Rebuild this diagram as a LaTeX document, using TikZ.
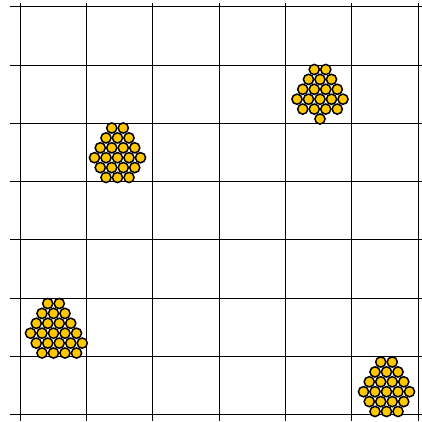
\documentclass[tikz,border=0pt]{standalone}
\definecolor{gold}{HTML}{FFC800}
\tikzset{
  gridline/.style={black, line width=1pt},
  ball/.style={draw=black, fill=gold, line width=1.5pt}
}
\newcommand\ballcluster[3]{%
  \foreach \r/\offs in {#3} {
    \foreach \o in \offs {
      \draw[ball] ({#1+\o*11.5},{#2+\r*9.9}) circle (5.1);
    }
  }%
}
\begin{document}
\begin{tikzpicture}[x=1pt,y=-1pt]
\useasboundingbox (0,0) rectangle (422,422);
% grid
\foreach \k in {0,...,7} {
  \draw[gridline] (10,{7+\k*58.2}) -- (422,{7+\k*58.2});
}
\foreach \k in {0,...,6} {
  \draw[gridline] ({20.3+\k*66.3},3) -- ({20.3+\k*66.3},421);
}
% clusters
\ballcluster{320}{69.5}{0/{-0.5,0.5},1/{-1,0,1},2/{-1.5,-0.5,0.5,1.5},3/{-2,-1,0,1,2},4/{-1.5,-0.5,0.5,1.5},5/{0}}
\ballcluster{117.5}{128}{0/{-0.5,0.5},1/{-1,0,1},2/{-1.5,-0.5,0.5,1.5},3/{-2,-1,0,1,2},4/{-1.5,-0.5,0.5,1.5},5/{-1,0,1}}
\ballcluster{53.5}{303.5}{0/{-0.5,0.5},1/{-1,0,1},2/{-1.5,-0.5,0.5,1.5},3/{-2,-1,0,1,2},4/{-1.5,-0.5,0.5,1.5,2.5},5/{-1,0,1,2}}
\ballcluster{386.5}{362}{0/{-0.5,0.5},1/{-1,0,1},2/{-1.5,-0.5,0.5,1.5},3/{-2,-1,0,1,2},4/{-1.5,-0.5,0.5,1.5},5/{-1,0,1}}
\end{tikzpicture}
\end{document}
